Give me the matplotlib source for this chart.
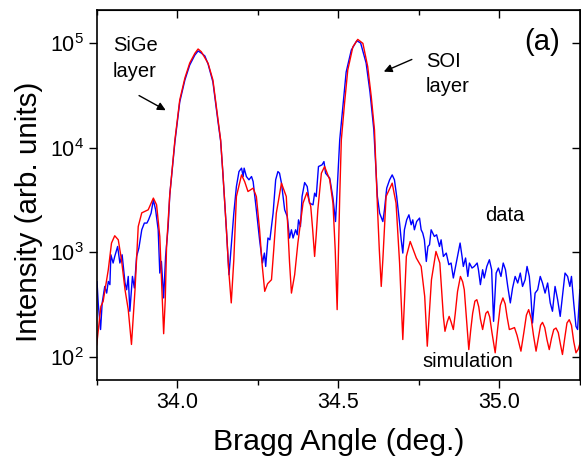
import matplotlib
matplotlib.use("Agg")
import matplotlib.pyplot as plt
from matplotlib.ticker import FixedLocator, NullLocator

plt.rcParams['font.family'] = ['Liberation Sans', 'DejaVu Sans']
plt.rcParams['mathtext.fontset'] = 'custom'
plt.rcParams['mathtext.rm'] = 'Liberation Sans'
plt.rcParams['mathtext.it'] = 'Liberation Sans:italic'

# simulation (red)
sim_angle = [33.749, 33.762, 33.769, 33.785, 33.795, 33.805, 33.816, 33.826, 33.837, 33.847,
             33.857, 33.868, 33.878, 33.889, 33.909, 33.925, 33.935, 33.945, 33.953, 33.957,
             33.962, 33.966, 33.976, 33.992, 34.007, 34.023, 34.038, 34.054, 34.064, 34.074,
             34.095, 34.110, 34.126, 34.134, 34.141, 34.152, 34.159, 34.167, 34.175, 34.183,
             34.199, 34.209, 34.219, 34.235, 34.245, 34.255, 34.263, 34.271, 34.280, 34.292,
             34.299, 34.307, 34.323, 34.338, 34.343, 34.348, 34.354, 34.364, 34.374, 34.390,
             34.402, 34.414, 34.420, 34.426, 34.431, 34.436, 34.447, 34.457, 34.473, 34.483,
             34.490, 34.496, 34.504, 34.509, 34.519, 34.529, 34.545, 34.560, 34.576, 34.591,
             34.602, 34.612, 34.622, 34.627, 34.633, 34.638, 34.648, 34.667, 34.679, 34.690,
             34.700, 34.711, 34.723, 34.742, 34.757, 34.768, 34.776, 34.789, 34.803, 34.815,
             34.826, 34.831, 34.838, 34.844, 34.850, 34.857, 34.863, 34.870, 34.879, 34.886,
             34.891, 34.897, 34.905, 34.911, 34.917, 34.924, 34.930, 34.936, 34.941, 34.948,
             34.953, 34.958, 34.964, 34.970, 34.977, 34.987, 34.995, 35.003, 35.011, 35.018,
             35.024, 35.031, 35.038, 35.047, 35.055, 35.067, 35.076, 35.084, 35.091, 35.099,
             35.106, 35.114, 35.121, 35.128, 35.134, 35.141, 35.148, 35.155, 35.162, 35.169,
             35.176, 35.183, 35.190, 35.196, 35.203, 35.210, 35.217, 35.224, 35.231, 35.238,
             35.245, 35.251]
sim_intensity = [130, 303, 338, 679, 1222, 1435, 1312, 846, 437, 282,
                 131, 437, 1758, 2377, 2541, 3289, 2838, 1413, 351, 166,
                 351, 1133, 3532, 11858, 28580, 46340, 64420, 79800, 87700, 82600,
                 64000, 44360, 18400, 11860, 5730, 1637, 679, 327, 846, 3404,
                 5483, 4700, 3802, 4094, 3404, 1637, 759, 422, 499, 545,
                 1054, 2360, 4571, 3404, 1637, 809, 406, 608, 1222, 2944,
                 3715, 2734, 1637, 910, 1466, 2541, 5690, 6590, 4920, 2944,
                 1054, 282, 3404, 11860, 26550, 55200, 92200, 108400, 99300, 59400,
                 30700, 14760, 2360, 1054, 470, 846, 3404, 4571, 2944, 787,
                 146, 910, 1265, 879, 730, 378, 126, 545, 1016, 787,
                 243, 175, 215, 243, 215, 182, 260, 420, 586, 520,
                 437, 250, 117, 180, 260, 340, 351, 300, 230, 182,
                 220, 260, 272, 240, 170, 109, 190, 310, 365, 320,
                 240, 182, 185, 190, 160, 113, 170, 250, 282, 230,
                 160, 113, 150, 200, 213, 190, 145, 117, 150, 182,
                 188, 170, 130, 105, 150, 210, 226, 200, 140, 109,
                 118, 136]

# measured data (blue)
data_angle = [33.750, 33.754, 33.761, 33.766, 33.774, 33.780, 33.785, 33.790, 33.793, 33.800,
              33.805, 33.814, 33.821, 33.828, 33.837, 33.842, 33.847, 33.852, 33.860, 33.866,
              33.873, 33.880, 33.889, 33.897, 33.905, 33.910, 33.918, 33.925, 33.932, 33.940,
              33.945, 33.950, 33.957, 33.963, 33.971, 33.976, 33.992, 34.007, 34.023, 34.038,
              34.054, 34.064, 34.074, 34.085, 34.095, 34.110, 34.126, 34.134, 34.141, 34.152,
              34.160, 34.167, 34.175, 34.183, 34.191, 34.199, 34.204, 34.207, 34.214, 34.222,
              34.230, 34.235, 34.245, 34.255, 34.264, 34.270, 34.274, 34.281, 34.287, 34.297,
              34.305, 34.312, 34.317, 34.323, 34.333, 34.341, 34.348, 34.354, 34.359, 34.367,
              34.372, 34.376, 34.382, 34.387, 34.395, 34.403, 34.410, 34.421, 34.426, 34.431,
              34.438, 34.449, 34.455, 34.460, 34.473, 34.483, 34.491, 34.499, 34.504, 34.515,
              34.524, 34.540, 34.557, 34.569, 34.586, 34.598, 34.610, 34.621, 34.628, 34.638,
              34.643, 34.650, 34.659, 34.667, 34.674, 34.681, 34.690, 34.695, 34.700, 34.705,
              34.712, 34.719, 34.726, 34.731, 34.736, 34.743, 34.752, 34.757, 34.762, 34.767,
              34.773, 34.778, 34.783, 34.788, 34.793, 34.798, 34.805, 34.814, 34.819, 34.826,
              34.835, 34.843, 34.850, 34.857, 34.866, 34.874, 34.878, 34.884, 34.888, 34.895,
              34.902, 34.907, 34.915, 34.922, 34.931, 34.935, 34.941, 34.948, 34.953, 34.961,
              34.969, 34.976, 34.982, 34.990, 34.997, 35.005, 35.012, 35.019, 35.026, 35.034,
              35.041, 35.049, 35.057, 35.065, 35.072, 35.080, 35.086, 35.093, 35.098, 35.103,
              35.111, 35.119, 35.127, 35.134, 35.142, 35.150, 35.158, 35.165, 35.173, 35.181,
              35.189, 35.196, 35.204, 35.212, 35.219, 35.224, 35.231, 35.238, 35.243, 35.250]
data_intensity = [521, 315, 182, 327, 470, 406, 525, 489, 944, 787,
                  910, 1133, 787, 944, 507, 437, 586, 272, 586, 454,
                  910, 1094, 1637, 1897, 1897, 2037, 2360, 3162, 2541, 1637,
                  631, 815, 365, 910, 1758, 3532, 11350, 27350, 44360, 61660,
                  76800, 84000, 80200, 75200, 63000, 42460, 17580, 11590, 5690, 1637,
                  608, 1133, 2360, 4240, 5900, 6360, 5290, 6360, 5290, 4920,
                  5290, 4730, 2541, 1312, 787, 980, 730, 1365, 1312, 2360,
                  4920, 5900, 5690, 4571, 2541, 2193, 1365, 1637, 1365, 1637,
                  1466, 2037, 1758, 3404, 4630, 4240, 2944, 2838, 3664, 3404,
                  6590, 6840, 7350, 5690, 5100, 3289, 1963, 6120, 11860, 26700,
                  52800, 85700, 105200, 100000, 64400, 34000, 14760, 3404, 2360, 1963,
                  2541, 4094, 4920, 5483, 4920, 3404, 1897, 1312, 980, 1637,
                  2037, 2276, 1828, 2037, 1637, 1963, 2118, 1637, 1521, 1312,
                  815, 1133, 1177, 1637, 1521, 1413, 1466, 1133, 1312, 910,
                  980, 759, 787, 566, 787, 1054, 1222, 910, 730, 879,
                  586, 787, 705, 730, 787, 679, 489, 679, 566, 730,
                  846, 679, 218, 631, 705, 586, 787, 679, 470, 327,
                  454, 586, 507, 631, 470, 545, 730, 586, 378, 210,
                  406, 437, 586, 507, 406, 507, 327, 272, 470, 351,
                  243, 378, 631, 586, 470, 586, 327, 195, 182, 437]

x_major = [34.0, 34.5, 35.0]
x_minor = [33.75, 34.25, 34.75, 35.25]
x_labels = ['34.0', '34.5', '35.0']
y_major = [1e2, 1e3, 1e4, 1e5]
y_labels = [r'$10^2$', r'$10^3$', r'$10^4$', r'$10^5$']

fig = plt.figure(figsize=(5.81, 4.65), dpi=100)
ax = fig.add_axes([0.167, 0.183, 0.831, 0.795])

ax.plot(data_angle, data_intensity, color='#0000ff', lw=1.0)
ax.plot(sim_angle, sim_intensity, color='#ff0000', lw=1.0)

ax.set_yscale('log')
ax.set_xlim(33.75, 35.25)
ax.set_ylim(60, 2.06e5)

ax.xaxis.set_major_locator(FixedLocator(x_major))
ax.xaxis.set_minor_locator(FixedLocator(x_minor))
ax.set_xticklabels(x_labels)
ax.yaxis.set_major_locator(FixedLocator(y_major))
ax.yaxis.set_minor_locator(NullLocator())
ax.set_yticklabels(y_labels)

ax.tick_params(axis='both', which='major', labelsize=15.5, direction='out', length=6, width=1)
ax.tick_params(axis='x', which='major', pad=3)
ax.tick_params(axis='x', which='minor', direction='out', length=3.5, width=1)
ax.tick_params(top=False, right=False)
for s in ax.spines.values():
    s.set_linewidth(1.2)

# inward ticks on top and right
axt = ax.secondary_xaxis('top')
axt.xaxis.set_major_locator(FixedLocator(x_major))
axt.xaxis.set_minor_locator(FixedLocator(x_minor))
axt.tick_params(which='major', direction='in', length=6, width=1, labeltop=False)
axt.tick_params(which='minor', direction='in', length=3.5, width=1)
axr = ax.secondary_yaxis('right')
axr.yaxis.set_major_locator(FixedLocator(y_major))
axr.yaxis.set_minor_locator(NullLocator())
axr.tick_params(which='major', direction='in', length=6, width=1, labelright=False)

ax.set_xlabel('Bragg Angle (deg.)', fontsize=21.8)
ax.set_ylabel('Intensity (arb. units)', fontsize=21.3)
ax.xaxis.set_label_coords(0.5, -0.13)
ax.yaxis.set_label_coords(-0.112, 0.455)

ax.text(0.033, 0.93, 'SiGe\nlayer', transform=ax.transAxes, fontsize=14.5,
        va='top', ha='left', linespacing=1.45)
ax.annotate('', xy=(33.971, 22100), xytext=(33.873, 32400),
            arrowprops=dict(arrowstyle='-|>', color='black', lw=1, mutation_scale=12))
ax.text(0.681, 0.888, 'SOI\nlayer', transform=ax.transAxes, fontsize=14.5,
        va='top', ha='left', linespacing=1.45)
ax.annotate('', xy=(34.633, 52000), xytext=(34.736, 71400),
            arrowprops=dict(arrowstyle='-|>', color='black', lw=1, mutation_scale=12))
ax.text(0.884, 0.915, '(a)', transform=ax.transAxes, fontsize=21, ha='left', va='center')
ax.text(0.845, 0.445, 'data', transform=ax.transAxes, fontsize=14.5, ha='center', va='center')
ax.text(0.767, 0.049, 'simulation', transform=ax.transAxes, fontsize=14.5, ha='center', va='center')

fig.savefig('out.png', dpi=100)
